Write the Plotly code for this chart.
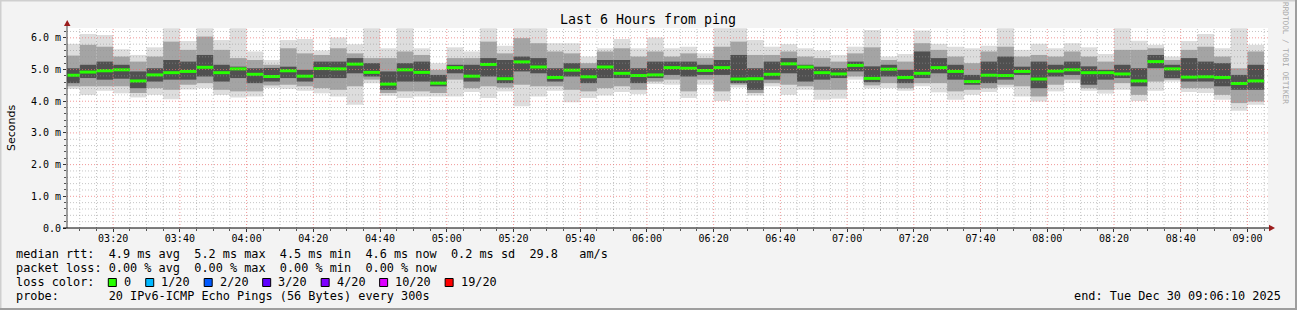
import plotly.graph_objects as go
import pandas as pd
import numpy as np

# ---------------- data (ms) ----------------
start_time = "2025-12-30 03:05:00"
n_steps = 72
step_ms = 300000
times = pd.date_range(start_time, periods=n_steps, freq="5min")

rtt_max = [5.81, 6.12, 6.09, 5.64, 5.46, 5.70, 6.30, 5.90, 6.30, 5.93, 6.30, 5.57,
           5.30, 5.93, 5.96, 5.60, 6.01, 5.80, 6.30, 5.67, 6.30, 5.67, 5.20, 5.70,
           5.57, 6.30, 5.75, 6.30, 6.30, 5.83, 5.83, 5.41, 5.67, 5.96, 5.67, 6.01,
           5.67, 5.72, 5.51, 6.30, 6.30, 5.93, 5.72, 5.80, 5.67, 5.60, 5.46, 5.72,
           6.25, 5.41, 5.49, 6.23, 5.81, 5.72, 5.67, 5.75, 6.30, 5.62, 5.81, 5.67,
           5.83, 5.70, 5.49, 6.30, 5.91, 5.78, 5.41, 5.90, 6.12, 5.67, 6.30, 5.78]
rtt_hi2 = [5.44, 5.78, 5.72, 5.41, 5.25, 5.41, 5.88, 5.62, 6.04, 5.62, 5.36, 5.30,
           5.15, 5.67, 5.51, 5.46, 5.67, 5.51, 5.36, 5.36, 5.57, 5.46, 4.99, 5.36,
           5.36, 5.88, 5.51, 5.99, 5.83, 5.57, 5.51, 5.20, 5.57, 5.67, 5.41, 5.57,
           5.41, 5.51, 5.36, 5.72, 5.88, 5.46, 5.46, 5.57, 5.41, 5.36, 5.25, 5.51,
           5.70, 5.30, 5.25, 5.83, 5.62, 5.41, 5.20, 5.57, 5.72, 5.41, 5.46, 5.41,
           5.57, 5.41, 5.25, 5.62, 5.62, 5.67, 5.30, 5.62, 5.72, 5.41, 5.04, 5.57]
rtt_hi3 = [5.04, 5.15, 5.25, 5.15, 4.94, 5.04, 5.30, 5.25, 5.46, 5.15, 5.09, 5.04,
           5.05, 5.09, 4.99, 5.25, 5.25, 5.36, 5.20, 4.94, 5.20, 5.25, 4.83, 5.15,
           5.15, 5.36, 5.30, 5.41, 5.36, 5.04, 5.20, 5.04, 5.30, 5.30, 5.04, 5.25,
           5.25, 5.25, 5.15, 5.30, 5.46, 5.04, 5.25, 5.36, 5.15, 5.09, 5.04, 5.25,
           5.10, 5.15, 4.99, 5.57, 5.36, 5.15, 4.83, 5.25, 5.41, 5.09, 5.25, 5.15,
           5.25, 5.10, 4.99, 5.15, 5.04, 5.46, 5.15, 5.36, 5.25, 5.20, 4.83, 5.15]
rtt_med = [4.82, 4.92, 4.96, 4.99, 4.64, 4.83, 4.90, 4.94, 5.07, 4.90, 5.02, 4.85,
           4.78, 4.96, 4.79, 5.03, 5.02, 5.17, 4.91, 4.54, 4.99, 4.91, 4.57, 5.06,
           4.79, 5.16, 4.71, 5.24, 5.08, 4.75, 4.98, 4.77, 5.08, 4.88, 4.81, 4.83,
           5.06, 5.04, 4.97, 5.06, 4.70, 4.71, 4.85, 5.18, 5.08, 4.90, 4.86, 5.13,
           4.72, 5.01, 4.75, 4.88, 5.06, 4.94, 4.62, 4.82, 4.81, 4.94, 4.70, 4.95,
           4.99, 4.90, 4.90, 4.86, 4.64, 5.25, 5.02, 4.76, 4.77, 4.75, 4.56, 4.64]
rtt_lo3 = [4.57, 4.73, 4.68, 4.71, 4.41, 4.62, 4.68, 4.68, 4.78, 4.62, 4.73, 4.57,
           4.62, 4.73, 4.62, 4.73, 4.73, 4.88, 4.78, 4.36, 4.62, 4.62, 4.47, 4.88,
           4.62, 4.78, 4.57, 4.94, 4.88, 4.62, 4.78, 4.57, 4.73, 4.73, 4.57, 4.73,
           4.83, 4.78, 4.83, 4.83, 4.57, 4.36, 4.68, 4.88, 4.62, 4.68, 4.73, 4.94,
           4.60, 4.78, 4.57, 4.73, 4.88, 4.68, 4.52, 4.57, 4.68, 4.83, 4.41, 4.78,
           4.83, 4.52, 4.68, 4.73, 4.47, 5.04, 4.73, 4.62, 4.62, 4.47, 4.36, 4.36]
rtt_lo2 = [4.47, 4.47, 4.47, 4.47, 4.26, 4.41, 4.36, 4.52, 4.57, 4.36, 4.31, 4.31,
           4.50, 4.52, 4.47, 4.41, 4.36, 4.47, 4.68, 4.26, 4.31, 4.31, 4.26, 4.68,
           4.41, 4.47, 4.43, 4.52, 4.47, 4.47, 4.36, 4.31, 4.41, 4.47, 4.36, 4.62,
           4.68, 4.31, 4.68, 4.31, 4.52, 4.26, 4.57, 4.52, 4.47, 4.36, 4.36, 4.78,
           4.50, 4.57, 4.41, 4.57, 4.57, 4.31, 4.36, 4.41, 4.52, 4.47, 4.15, 4.52,
           4.68, 4.41, 4.36, 4.57, 4.20, 4.62, 4.68, 4.41, 4.41, 4.20, 3.94, 3.99]
rtt_min = [4.39, 4.20, 4.33, 4.25, 4.12, 4.20, 4.06, 4.37, 4.41, 4.20, 4.12, 4.15,
           4.42, 4.39, 4.33, 4.25, 4.15, 3.89, 4.57, 4.17, 4.10, 4.15, 4.15, 4.15,
           4.29, 4.10, 4.31, 3.84, 4.15, 4.33, 3.97, 4.10, 4.18, 4.29, 4.22, 4.54,
           4.52, 4.10, 4.52, 4.01, 4.43, 4.18, 4.47, 4.20, 4.36, 4.05, 4.08, 4.68,
           4.40, 4.41, 4.33, 4.47, 4.28, 4.05, 4.20, 4.29, 4.43, 4.15, 3.99, 4.31,
           4.57, 4.33, 4.24, 4.36, 4.01, 4.33, 4.62, 4.29, 4.26, 4.05, 3.70, 3.89]

y_tickvals = [0, 1, 2, 3, 4, 5, 6]
y_ticktext = ["0.0", "1.0 m", "2.0 m", "3.0 m", "4.0 m", "5.0 m", "6.0 m"]

loss_labels = ["0", "1/20", "2/20", "3/20", "4/20", "10/20", "19/20"]
loss_colors = ["#26ff00", "#00b8ff", "#0059ff", "#5e00ff", "#7e00ff", "#dd00ff", "#ff0000"]

stats_line1 = "median rtt:  4.9 ms avg  5.2 ms max  4.5 ms min  4.6 ms now  0.2 ms sd  29.8   am/s"
stats_line2 = "packet loss: 0.00 % avg  0.00 % max  0.00 % min  0.00 % now"
probe_line = "probe:       20 IPv6-ICMP Echo Pings (56 Bytes) every 300s"
end_line = "end: Tue Dec 30 09:06:10 2025"
title_text = "Last 6 Hours from ping"

# ---------------- geometry helpers ----------------
W, H = 1297, 310
L, R, T, B = 67, 29, 28, 82
PW, PH = W - L - R, H - T - B
Y_TOP = 6.31
X_START, X_END = "2025-12-30 03:06:10", "2025-12-30 09:06:10"


def px(x):
    return (x - L) / PW


def py(y):
    return (H - B - y) / PH


def nb(s):
    return s.replace(" ", "\u00a0")


MONO = "DejaVu Sans Mono"

fig = go.Figure()


def band(lo, hi, color):
    lo = np.array(lo)
    hi = np.array(hi)
    fig.add_trace(go.Bar(x=times, base=lo, y=hi - lo, width=step_ms, offset=0,
                         marker=dict(color=color, line=dict(width=0)),
                         hoverinfo="skip", showlegend=False))


band(rtt_min, rtt_max, "#dddddd")
band(rtt_lo2, rtt_hi2, "#a4a4a4")
band(rtt_lo3, rtt_hi3, "#505050")
med = np.array(rtt_med)
fig.add_trace(go.Bar(x=times, base=med - 0.047, y=np.full(n_steps, 0.094), width=step_ms, offset=0,
                     marker=dict(color="#26ff00", line=dict(width=0)),
                     hoverinfo="skip", showlegend=False))

red_grid = "rgba(235,110,110,0.7)"
gray_grid = "rgba(150,150,150,0.55)"
DASH = "1px,2px"

fig.update_layout(
    width=W, height=H,
    margin=dict(l=L, r=R, t=T, b=B, pad=0),
    paper_bgcolor="#f3f3f3", plot_bgcolor="#ffffff",
    barmode="overlay", showlegend=False,
    font=dict(family=MONO, color="#000000"),
    xaxis=dict(
        type="date",
        range=[X_START, X_END],
        tick0="2025-12-30 00:00:00", dtick=1200000, tickformat="%H:%M",
        showgrid=False,
        ticks="outside", ticklen=3, tickcolor="#333333", ticklabelstandoff=-2,
        tickfont=dict(family=MONO, size=10, color="#000000"),
        minor=dict(tick0="2025-12-30 00:00:00", dtick=step_ms, showgrid=False,
                   ticks="outside", ticklen=2, tickcolor="#555555"),
        showline=False, zeroline=False, fixedrange=True,
    ),
    yaxis=dict(
        range=[0, Y_TOP],
        tickvals=y_tickvals, ticktext=y_ticktext,
        showgrid=False,
        ticks="outside", ticklen=3, tickcolor="#333333",
        tickfont=dict(family=MONO, size=10, color="#000000"),
        minor=dict(dtick=0.2, tick0=0, showgrid=False,
                   ticks="outside", ticklen=2, tickcolor="#555555"),
        showline=False, zeroline=False, fixedrange=True,
    ),
)

shapes = []
# grid drawn on top of the smoke, like rrdtool
minor_times = pd.date_range("2025-12-30 03:10:00", X_END, freq="5min")
for t in minor_times:
    major = (t.minute % 20 == 0)
    shapes.append(dict(type="line", xref="x", yref="paper", x0=t, x1=t, y0=0, y1=1, layer="above",
                       line=dict(color=red_grid if major else gray_grid, width=1, dash=DASH)))
for v in np.round(np.arange(0.2, Y_TOP, 0.2), 1):
    major = abs(v - round(v)) < 1e-6
    shapes.append(dict(type="line", xref="paper", yref="y", x0=0, x1=1, y0=v, y1=v, layer="above",
                       line=dict(color=red_grid if major else gray_grid, width=1, dash=DASH)))

# axis lines with arrows
shapes.append(dict(type="line", xref="paper", yref="paper", x0=px(67), x1=px(67), y0=py(228), y1=py(24),
                   line=dict(color="#444444", width=1)))
shapes.append(dict(type="line", xref="paper", yref="paper", x0=px(63), x1=px(1271), y0=py(228), y1=py(228),
                   line=dict(color="#000000", width=1)))
shapes.append(dict(type="path", xref="paper", yref="paper",
                   path=f"M {px(64)} {py(26)} L {px(70.5)} {py(26)} L {px(67.2)} {py(20)} Z",
                   fillcolor="#9b1c1c", line=dict(width=0)))
shapes.append(dict(type="path", xref="paper", yref="paper",
                   path=f"M {px(1269)} {py(224.8)} L {px(1269)} {py(231.3)} L {px(1275)} {py(228)} Z",
                   fillcolor="#9b1c1c", line=dict(width=0)))
# frame shading
shapes.append(dict(type="line", xref="paper", yref="paper", x0=px(0), x1=px(W), y0=py(0.5), y1=py(0.5),
                   line=dict(color="#cfcfcf", width=2)))
shapes.append(dict(type="line", xref="paper", yref="paper", x0=px(0.5), x1=px(0.5), y0=py(0), y1=py(H),
                   line=dict(color="#cfcfcf", width=2)))
shapes.append(dict(type="line", xref="paper", yref="paper", x0=px(0), x1=px(W), y0=py(H - 1), y1=py(H - 1),
                   line=dict(color="#9e9e9e", width=2)))
shapes.append(dict(type="line", xref="paper", yref="paper", x0=px(W - 1), x1=px(W - 1), y0=py(0), y1=py(H),
                   line=dict(color="#9e9e9e", width=2)))

annotations = []


def text(x, y, s, size=11.85, anchor="left", color="#000000", family=MONO, angle=0):
    annotations.append(dict(xref="paper", yref="paper", x=px(x), y=py(y), text=nb(s),
                            showarrow=False, xanchor=anchor, yanchor="middle",
                            textangle=angle, borderpad=0, borderwidth=0,
                            font=dict(family=family, size=size, color=color)))


CW = 7.1
X0 = 16
text(648, 19, title_text, size=13.3, anchor="center")
text(X0, 254, stats_line1)
text(X0, 268, stats_line2)
text(X0, 282, "loss color:")
text(X0, 296, probe_line)
text(1281, 296, end_line, anchor="right")
text(11, 128, "Seconds", size=11, anchor="center", family="DejaVu Sans", angle=-90)
text(1286, 53, "RRDTOOL / TOBI OETIKER", size=7.7, anchor="center", color="#a8a8a8", angle=90)

bx = 108.3
for lab, col in zip(loss_labels, loss_colors):
    shapes.append(dict(type="rect", xref="paper", yref="paper",
                       x0=px(bx), x1=px(bx + 8), y0=py(278.5), y1=py(286.5),
                       fillcolor=col, line=dict(color="#000000", width=1)))
    lx = bx + 15.7
    text(lx, 282, lab)
    bx = lx + len(lab) * 7.02 + 14.7

fig.update_layout(shapes=shapes, annotations=annotations)

fig.write_html("out.html")
